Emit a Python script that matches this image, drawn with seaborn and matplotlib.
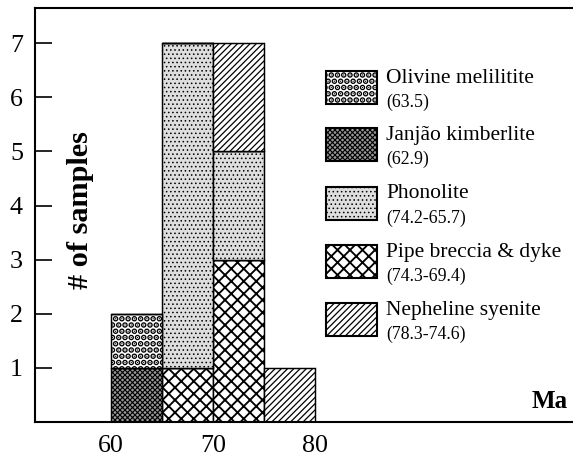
import matplotlib
matplotlib.use("Agg")
import matplotlib.pyplot as plt
import matplotlib.colors as mcolors
from matplotlib.patches import Rectangle
import pandas as pd
import seaborn as sns

# Rock types, their age ranges (Ma) and sample counts per 5 Ma bin
rock_types = ["Olivine melilitite", "Janjão kimberlite", "Phonolite",
              "Pipe breccia & dyke", "Nepheline syenite"]
age_ranges = ["(63.5)", "(62.9)", "(74.2-65.7)", "(74.3-69.4)", "(78.3-74.6)"]
bin_edges = [60, 65, 70, 75, 80]
olivine_counts = [1, 0, 0, 0]
janjao_counts = [1, 0, 0, 0]
phonolite_counts = [0, 6, 2, 0]
breccia_counts = [0, 1, 3, 0]
syenite_counts = [0, 0, 2, 1]
x_ticks = [60, 70, 80]
y_ticks = [1, 2, 3, 4, 5, 6, 7]

counts = dict(zip(rock_types, [olivine_counts, janjao_counts, phonolite_counts,
                               breccia_counts, syenite_counts]))

rows = []
for rock in rock_types:
    for lo, hi, n in zip(bin_edges[:-1], bin_edges[1:], counts[rock]):
        if n > 0:
            rows.append({"rock": rock, "age": (lo + hi) / 2, "n": n})
df = pd.DataFrame(rows)

# fill colour, hatch and hatch line width for each rock type
styles = {
    "Olivine melilitite": ("#ffffff", "....", 2.0),
    "Janjão kimberlite": ("#9c9c9c", "xxxxxxxxxx", 0.55),
    "Phonolite": ("#dedede", "......", 0.4),
    "Pipe breccia & dyke": ("#ffffff", "xxxx", 0.9),
    "Nepheline syenite": ("#ffffff", "////////", 0.6),
}
# distinct key colours so each bar can be traced back to its rock type
key_colors = dict(zip(rock_types, sns.color_palette("tab10", len(rock_types))))

sns.set_theme(style="ticks")
plt.rcParams["font.family"] = ["Liberation Serif", "DejaVu Serif"]
plt.rcParams["text.color"] = "black"
plt.rcParams["hatch.linewidth"] = 0.7


def apply_style(patch, rock):
    face, hatch, hlw = styles[rock]
    patch.set_facecolor(face)
    patch.set_edgecolor("black")
    patch.set_hatch(hatch)
    if hasattr(patch, "set_hatch_linewidth"):
        patch.set_hatch_linewidth(hlw)


DPI = 150
fig = plt.figure(figsize=(573 / DPI, 458 / DPI), dpi=DPI)
ax = fig.add_axes([35 / 573, 36 / 458, 1 - 35 / 573, (422 - 8) / 458])

# stacking: the last hue level sits at the bottom of each stack
stack_order = ["Nepheline syenite", "Olivine melilitite", "Phonolite",
               "Janjão kimberlite", "Pipe breccia & dyke"]
sns.histplot(data=df, x="age", weights="n", hue="rock", hue_order=stack_order,
             bins=bin_edges, multiple="stack", palette=key_colors, alpha=1,
             edgecolor="black", linewidth=0.7, legend=False, ax=ax)

for patch in ax.patches:
    fc = mcolors.to_rgb(patch.get_facecolor())
    for rock, col in key_colors.items():
        if max(abs(a - b) for a, b in zip(fc, col)) < 1e-3:
            apply_style(patch, rock)
            break

ax.set_xlim(52.55, 105.3)
ax.set_ylim(0, 7.65)
ax.set_xticks(x_ticks)
ax.set_xticklabels([str(t) for t in x_ticks])
ax.set_yticks(y_ticks)
ax.set_yticklabels([str(t) for t in y_ticks])
ax.tick_params(axis="y", direction="in", length=8.2, width=0.8, pad=5.8,
               labelsize=12.5, colors="black")
ax.tick_params(axis="x", length=0, pad=6, labelsize=12.5, colors="black")
ax.set_xlabel("")
ax.set_ylabel("")
for side in ("left", "top", "bottom"):
    ax.spines[side].set_linewidth(1.0)
    ax.spines[side].set_color("black")
ax.spines["right"].set_visible(False)

ax.text(103.0, 0.37, "Ma", fontsize=12, fontweight="bold", ha="center", va="center")
fig.text(80 / 573, 1 - 210 / 458, "# of samples", rotation=90, fontsize=14.5,
         fontweight="bold", ha="center", va="center")

# key boxes with names and age ranges
box_left, box_w, box_h = 326, 51, 33
box_tops = [71, 128, 187, 245, 303]
for rock, rng, top in zip(rock_types, age_ranges, box_tops):
    box = Rectangle((box_left / 573, 1 - (top + box_h) / 458),
                    box_w / 573, box_h / 458, transform=fig.transFigure,
                    linewidth=1.0)
    apply_style(box, rock)
    fig.add_artist(box)
    fig.text(386 / 573, 1 - (top + 7) / 458, rock, fontsize=10.3,
             ha="left", va="center")
    fig.text(386 / 573, 1 - (top + 31) / 458, rng, fontsize=8.5,
             ha="left", va="center")

fig.savefig("out.png", dpi=DPI)
